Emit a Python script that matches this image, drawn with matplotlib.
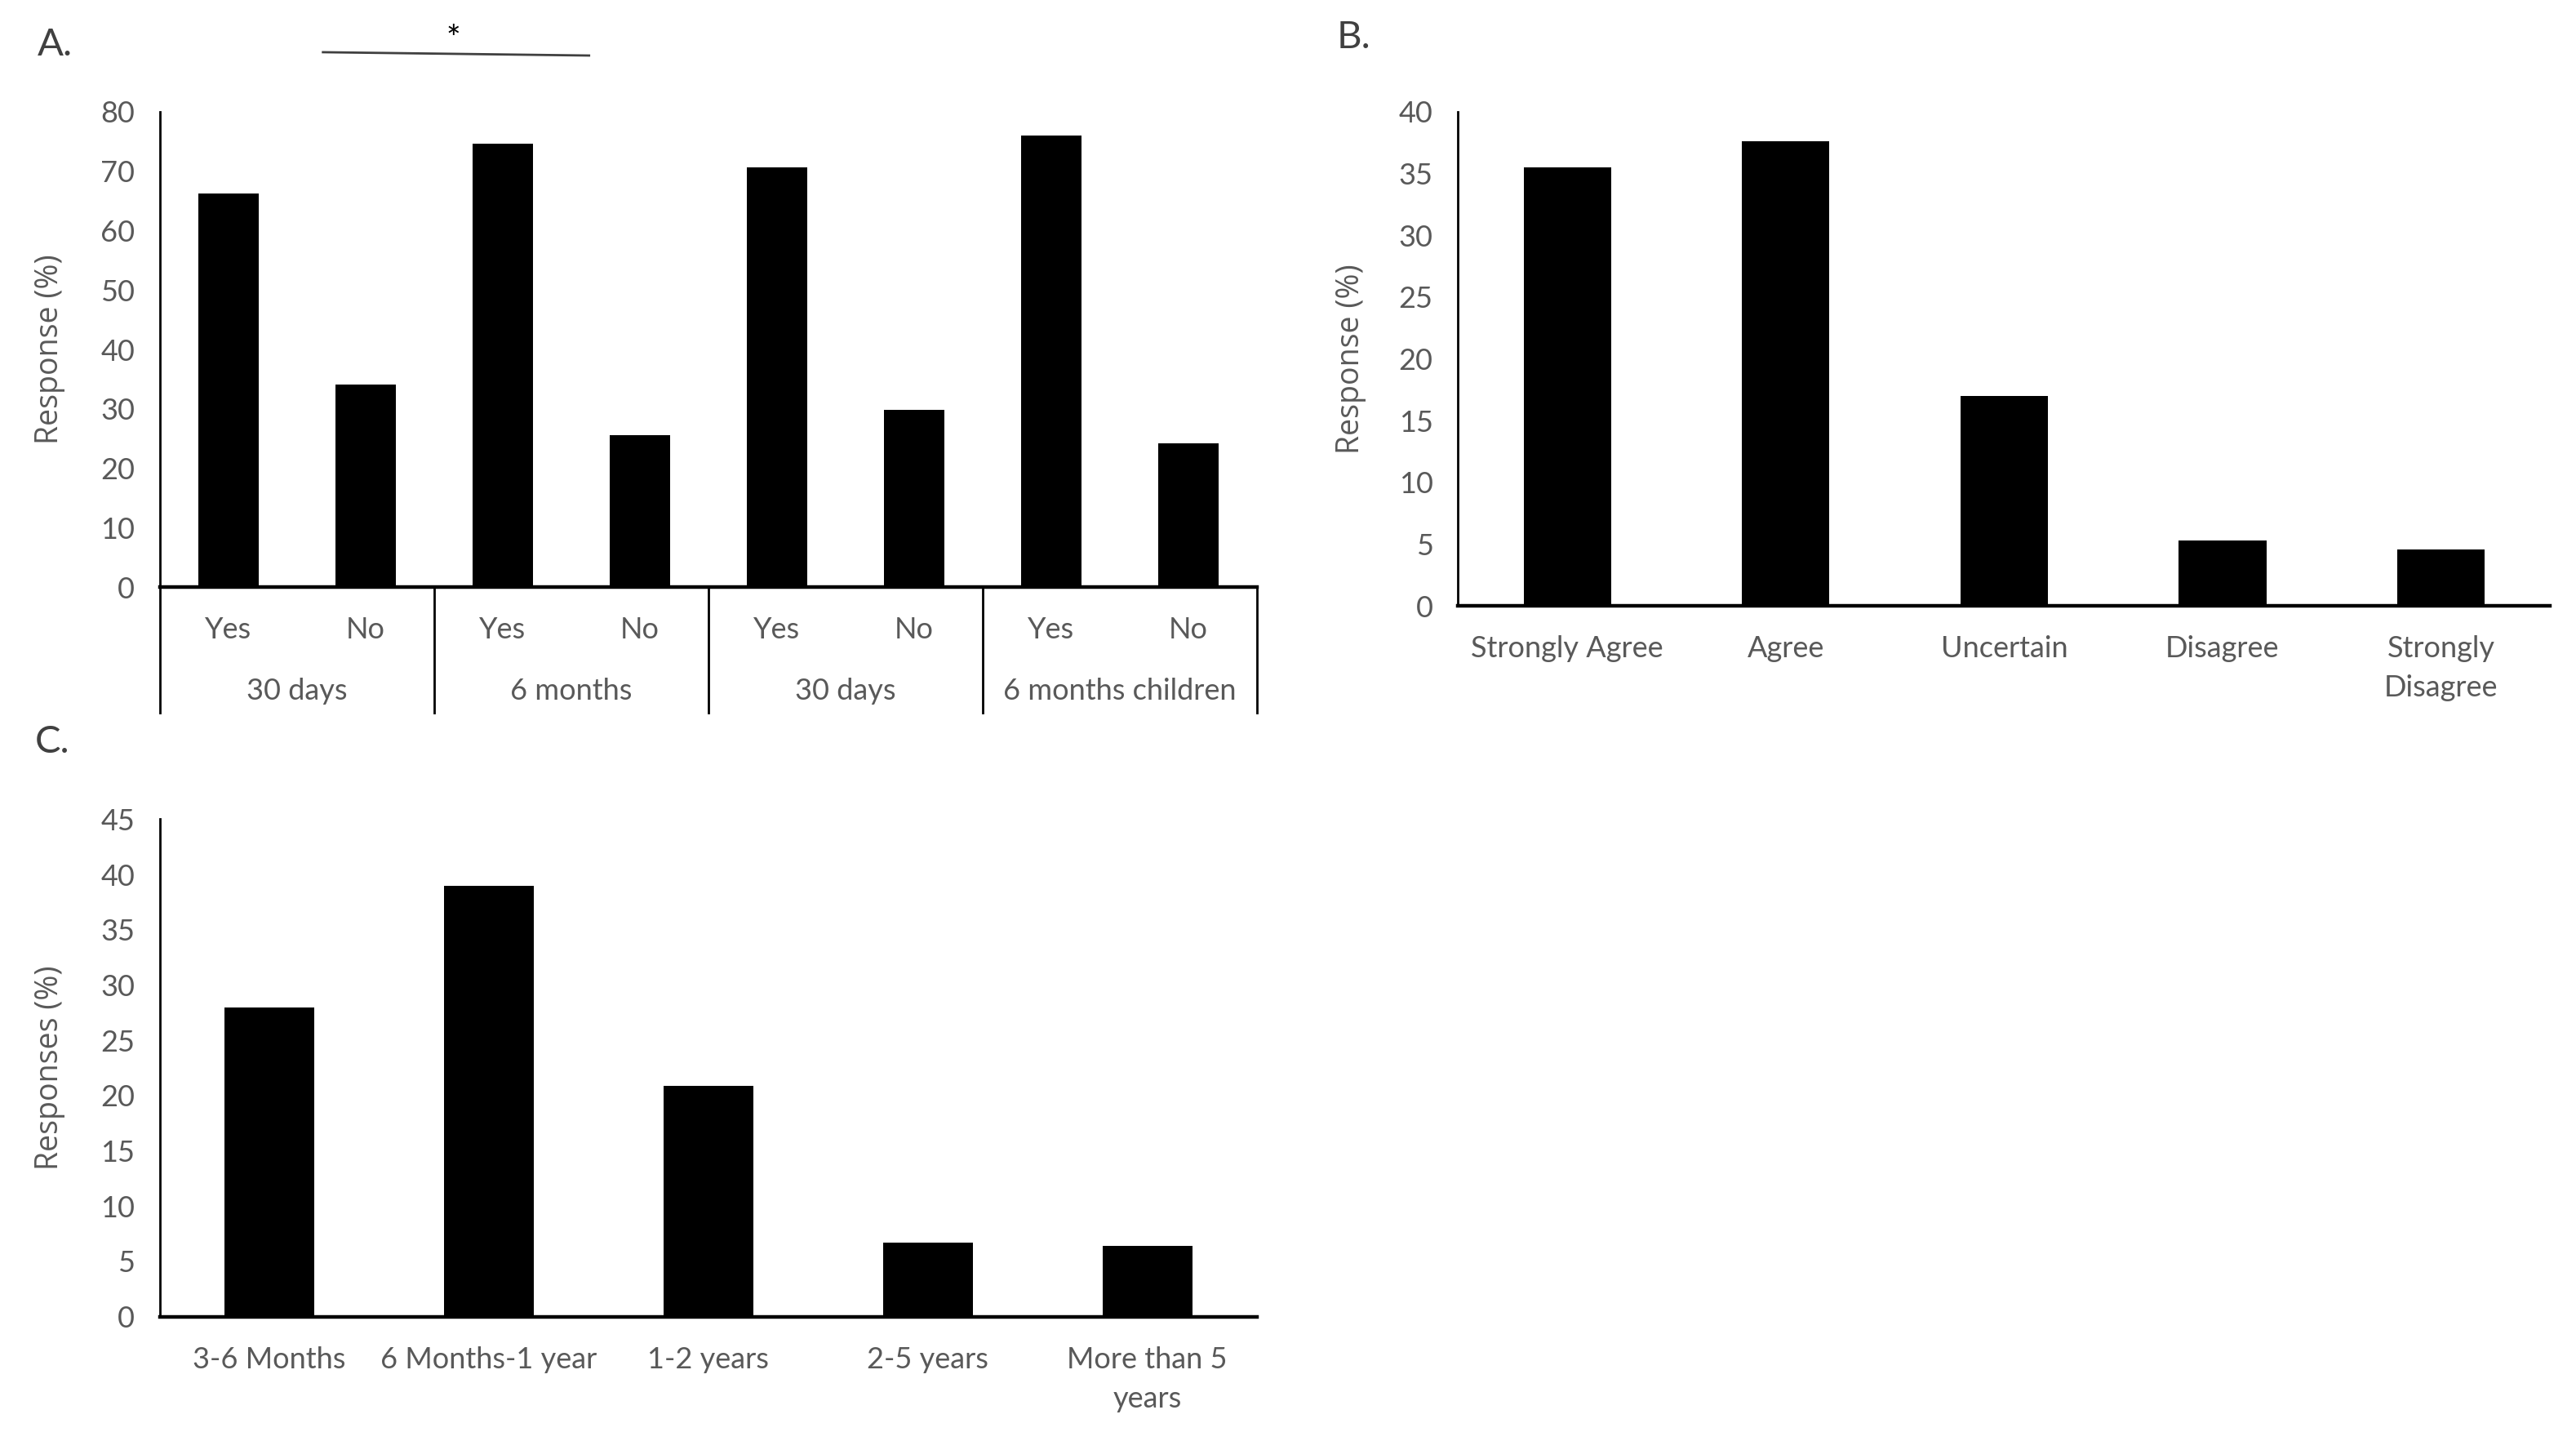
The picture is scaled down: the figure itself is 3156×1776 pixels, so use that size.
import matplotlib.pyplot as plt
import matplotlib.transforms as mtransforms

# Panel A data
a_answers = ["Yes", "No", "Yes", "No", "Yes", "No", "Yes", "No"]
a_groups = ["30 days", "6 months", "30 days", "6 months children"]
a_values = [66.3, 34.1, 74.6, 25.6, 70.6, 29.8, 76.0, 24.2]

# Panel B data
b_labels = ["Strongly Agree", "Agree", "Uncertain", "Disagree", "Strongly\nDisagree"]
b_values = [35.5, 37.6, 17.0, 5.3, 4.6]

# Panel C data
c_labels = ["3-6 Months", "6 Months-1 year", "1-2 years", "2-5 years", "More than 5\nyears"]
c_values = [28.0, 39.0, 20.9, 6.7, 6.4]

tick_font = "Lato"
label_font = "Open Sans"
grey = "#595959"
fs = 13

fig = plt.figure(figsize=(15.78, 8.88), dpi=200)


def style_axes(ax, ymax, step, ylabel):
    ax.set_ylim(0, ymax)
    ax.set_yticks(range(0, ymax + 1, step))
    for s in ["top", "right"]:
        ax.spines[s].set_visible(False)
    ax.spines["left"].set_linewidth(1.0)
    ax.spines["bottom"].set_linewidth(1.6)
    ax.tick_params(axis="y", length=0, pad=11, labelsize=fs, labelcolor=grey)
    ax.tick_params(axis="x", length=0, pad=13, labelsize=fs, labelcolor=grey)
    for t in ax.get_yticklabels():
        t.set_fontfamily(tick_font)
    ax.set_ylabel(ylabel, fontsize=13.5, color=grey, family=label_font)
    ax.yaxis.set_label_coords(-0.086, 0.5)


# ---- A ----
axA = fig.add_axes([0.062, 0.595, 0.426, 0.328])
xa = range(len(a_values))
axA.bar(xa, a_values, width=0.44, color="black")
axA.set_xlim(-0.5, len(a_values) - 0.5)
style_axes(axA, 80, 10, "Response (%)")
axA.set_xticks([])
trA = mtransforms.blended_transform_factory(axA.transData, axA.transAxes)
for i, lab in enumerate(a_answers):
    axA.text(i, -0.09, lab, transform=trA, ha="center", va="center",
             fontsize=fs, color=grey, family=tick_font)
for g, name in enumerate(a_groups):
    axA.text(2 * g + 0.5, -0.219, name, transform=trA, ha="center", va="center",
             fontsize=fs, color=grey, family=tick_font)
for g in range(len(a_groups) + 1):
    axA.plot([2 * g - 0.5, 2 * g - 0.5], [0, -0.264], transform=trA,
             color="black", lw=1.0, clip_on=False)
# significance bar
axA.plot([0.69, 2.63], [1.125, 1.118], transform=trA, color="#404040", lw=1.0, clip_on=False)
axA.text(1.64, 1.15, "*", transform=trA, ha="center", va="center",
         fontsize=15, color="black", family=tick_font)

# ---- B ----
axB = fig.add_axes([0.566, 0.582, 0.424, 0.341])
xb = range(len(b_values))
axB.bar(xb, b_values, width=0.40, color="black")
axB.set_xlim(-0.5, len(b_values) - 0.5)
axB.set_xticks(list(xb))
axB.set_xticklabels(b_labels, family=tick_font, linespacing=1.55, va="top")
style_axes(axB, 40, 5, "Response (%)")
axB.yaxis.set_label_coords(-0.084, 0.5)

# ---- C ----
axC = fig.add_axes([0.062, 0.092, 0.426, 0.343])
xc = range(len(c_values))
axC.bar(xc, c_values, width=0.41, color="black")
axC.set_xlim(-0.5, len(c_values) - 0.5)
axC.set_xticks(list(xc))
axC.set_xticklabels(c_labels, family=tick_font, linespacing=1.55, va="top")
style_axes(axC, 45, 5, "Responses (%)")

# panel letters
fig.text(0.0145, 0.969, "A.", fontsize=17, color="#404040", family=tick_font, va="center")
fig.text(0.519, 0.974, "B.", fontsize=17, color="#404040", family=tick_font, va="center")
fig.text(0.0135, 0.488, "C.", fontsize=17, color="#404040", family=tick_font, va="center")

plt.savefig("out.png", dpi=200)
